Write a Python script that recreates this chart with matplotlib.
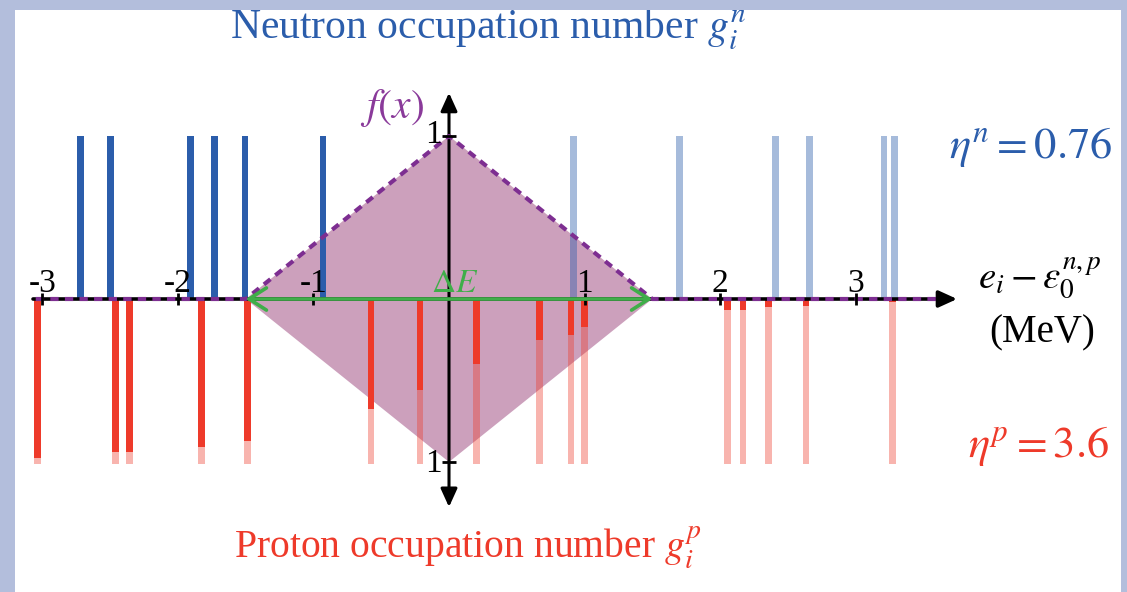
import matplotlib
matplotlib.use('Agg')
import matplotlib.pyplot as plt
from matplotlib.patches import Rectangle

# ---------------- data ----------------
neutron_x = [-2.72, -2.50, -1.91, -1.73, -1.505, -0.93, 0.92, 1.70, 2.41, 2.66, 3.21, 3.29]
neutron_g = [1, 1, 1, 1, 1, 1, 0, 0, 0, 0, 0, 0]
proton_x = [-3.035, -2.46, -2.356, -1.828, -1.486, -0.576, -0.214, 0.204, 0.667,
            0.90, 1.0, 2.057, 2.17, 2.36, 2.635, 3.275]
proton_g = [0.976, 0.94, 0.94, 0.91, 0.87, 0.677, 0.558, 0.40, 0.25,
            0.22, 0.17, 0.067, 0.067, 0.05, 0.045, 0.02]
x_ticks = [-3, -2, -1, 1, 2, 3]
tick_labels = ['-3', '-2', '-1', '1', '2', '3']
delta_E = 1.5
eta_n = 0.76
eta_p = 3.6

# ---------------- style ----------------
BORDER = '#b3bedc'
BLUE = '#2b5dab'
RED = '#ee3a2a'
MAUVE = '#cca0bc'
PURPLE = '#7d2e91'
PURPLE_TXT = '#8a3a9a'
GREEN = '#3fae49'

plt.rcParams['font.family'] = ['Liberation Serif', 'DejaVu Serif']
plt.rcParams['mathtext.fontset'] = 'stix'

W, H = 1127, 592
fig = plt.figure(figsize=(W / 100, H / 100), dpi=100, facecolor=BORDER)
# white panel
fig.patches.append(Rectangle((15 / W, 0), (1121 - 15) / W, (H - 10) / H,
                             transform=fig.transFigure, facecolor='white',
                             edgecolor='none', zorder=-10))
ax = fig.add_axes([0, 0, 1, 1])
ax.patch.set_alpha(0)
ax.set_axis_off()
# pixel mapping: x unit 135.5 px with zero at 449; y unit 163 px with zero at 299 from top
ax.set_xlim(-449 / 135.5, (W - 449) / 135.5)
ax.set_ylim(-(H - 299) / 163, 299 / 163)

# ---------------- diamond f(x) ----------------
ax.fill([-delta_E, 0, delta_E, 0], [0, 1, 0, -1], color=MAUVE, zorder=1, lw=0)

# ---------------- bars ----------------
bw = 0.05
n_dark = [g for g in neutron_g]
n_light = [1 - g for g in neutron_g]
ax.bar(neutron_x, n_dark, width=bw, bottom=0, color=BLUE, zorder=3, lw=0)
ax.bar(neutron_x, n_light, width=bw, bottom=n_dark, color=BLUE, alpha=0.42, zorder=3, lw=0)
p_full = 1.015
p_dark = [-g for g in proton_g]
p_light = [-(p_full - g) for g in proton_g]
ax.bar(proton_x, p_dark, width=bw, bottom=0, color=RED, zorder=3, lw=0)
ax.bar(proton_x, p_light, width=bw, bottom=p_dark, color=RED, alpha=0.38, zorder=3, lw=0)

# ---------------- axes lines ----------------
ax.annotate('', xy=(3.75, 0), xytext=(-3.07, 0),
            arrowprops=dict(arrowstyle='-|>,head_length=0.55,head_width=0.25',
                            color='black', lw=2.6, mutation_scale=20,
                            shrinkA=0, shrinkB=0), zorder=4)
ax.annotate('', xy=(0, 1.265), xytext=(0, -1.276),
            arrowprops=dict(arrowstyle='<|-|>,head_length=0.55,head_width=0.25',
                            color='black', lw=2.2, mutation_scale=20,
                            shrinkA=0, shrinkB=0), zorder=4)
# f(x) dashed
fx_x = [-3.05, -delta_E, 0, delta_E, 3.62]
fx_y = [0, 0, 1, 0, 0]
ax.plot(fx_x, fx_y, color=PURPLE, lw=3.0, dashes=(2.0, 1.5), zorder=5,
        solid_capstyle='butt', dash_capstyle='butt')
# ticks
ax.plot(x_ticks, [0] * len(x_ticks), ls='none', marker='|', ms=9, mew=2, color='black', zorder=6)
ax.plot([0, 0], [1, -1], ls='none', marker='_', ms=10, mew=2, color='black', zorder=6)

# delta E arrow
ax.annotate('', xy=(delta_E, 0.0), xytext=(-delta_E, 0.0),
            arrowprops=dict(arrowstyle='<->,head_length=0.5,head_width=0.32',
                            color=GREEN, lw=2.6, mutation_scale=25,
                            shrinkA=0, shrinkB=0), zorder=7)

# ---------------- texts ----------------
for xt, lab in zip(x_ticks, tick_labels):
    ax.text(xt, 0.043, lab, ha='center', va='baseline', fontsize=24, color='black', zorder=8)
ax.text(-0.118, 1.006, '1', ha='center', va='center', fontsize=24, zorder=8)
ax.text(-0.118, -1.012, '1', ha='center', va='center', fontsize=24, zorder=8)
ax.text(0.044, 0.043, r'$\Delta E$', ha='center', va='baseline', fontsize=24, color=GREEN, zorder=8)
ax.text(-0.42, 1.11, r'$f(x)$', ha='center', va='baseline', fontsize=30, color=PURPLE_TXT, zorder=8)

ax.text(0.288, 1.595, r'Neutron occupation number $g_i^n$', ha='center', va='baseline',
        fontsize=30, color=BLUE, zorder=8)
ax.text(0.14, -1.589, r'Proton occupation number $g_i^p$', ha='center', va='baseline',
        fontsize=28.5, color=RED, zorder=8)
ax.text(4.893, 0.865, r'$\eta^n = %.2f$' % eta_n, ha='right', va='baseline',
        fontsize=32, color=BLUE, zorder=8)
ax.text(4.871, -0.969, r'$\eta^p = %.1f$' % eta_p, ha='right', va='baseline',
        fontsize=32, color=RED, zorder=8)
ax.text(3.904, 0.067, r'$e_i - \varepsilon_0^{n,p}$', ha='left', va='baseline',
        fontsize=28, color='black', zorder=8)
ax.text(4.376, -0.264, '(MeV)', ha='center', va='baseline', fontsize=28, color='black', zorder=8)

# border on top (clips title top like the original)
for rect in [(0, 1 - 10 / H, 1, 10 / H), (0, 0, 15 / W, 1), (1121 / W, 0, 1 - 1121 / W, 1)]:
    fig.patches.append(Rectangle(rect[:2], rect[2], rect[3], transform=fig.transFigure,
                                 facecolor=BORDER, edgecolor='none', zorder=20))

fig.savefig('out.png', dpi=100, facecolor=BORDER)
